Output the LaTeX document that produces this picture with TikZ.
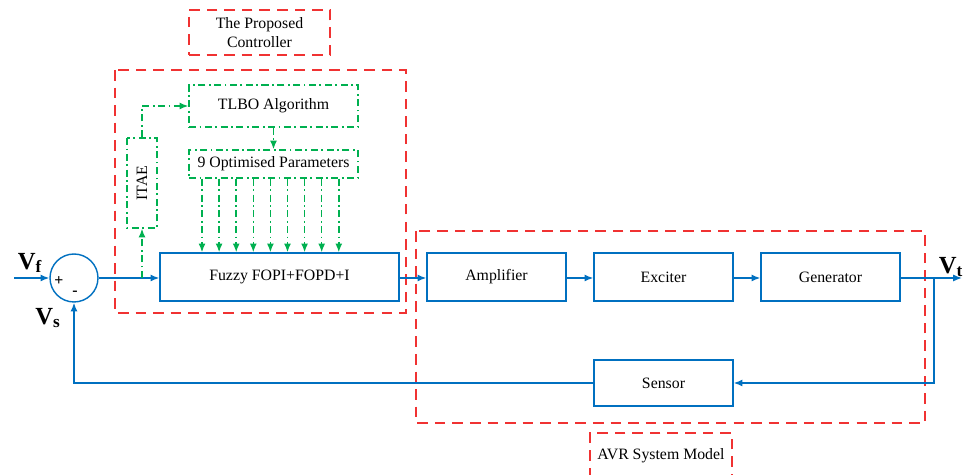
\documentclass[tikz,border=0pt]{standalone}
\usepackage{fontspec}
\setmainfont{Liberation Serif}
\usepackage{xcolor}
\usetikzlibrary{arrows.meta}

\definecolor{avrblue}{RGB}{0,112,192}
\definecolor{optgreen}{RGB}{0,176,80}
\definecolor{framered}{RGB}{240,50,50}

\tikzset{
  blockbox/.style={draw=avrblue, thick, minimum width=2.78cm, minimum height=0.96cm,
    font=\fontsize{9}{10.5}\selectfont},
  optbox/.style={draw=optgreen, thick, dash pattern=on 4pt off 2pt on 1pt off 2pt,
    font=\fontsize{9}{10.5}\selectfont},
  groupbox/.style={draw=framered, thick, dash pattern=on 6pt off 4pt},
  sigline/.style={draw=avrblue, thick, -{Latex[length=5pt,width=4pt]}},
  optline/.style={draw=optgreen, thick, dash pattern=on 4pt off 2pt on 1pt off 2pt,
    -{Latex[length=5pt,width=4pt]}},
  vlabel/.style={font=\fontsize{14}{16}\selectfont\bfseries},
}

\begin{document}
\begin{tikzpicture}[x=0.02cm, y=-0.02cm]
  \useasboundingbox (0,0) rectangle (965,475);
  \clip (0,0) rectangle (965,475);

  % group frames
  \draw[groupbox] (115,70) rectangle (406,313);
  \draw[groupbox] (416,231) rectangle (925,423);
  \node[groupbox, minimum width=2.82cm, minimum height=0.9cm, align=center,
    font=\fontsize{9}{11}\selectfont] (ctrllabel) at (259.5,32.5) {The Proposed\\Controller};
  \node[groupbox, minimum width=2.84cm, minimum height=1.0cm, text depth=0pt,
    font=\fontsize{9}{11}\selectfont] (avrlabel) at (661,458) {\raisebox{4pt}{AVR System Model}};

  % summing point
  \node[draw=avrblue, thick, circle, minimum size=0.96cm] (sum) at (74,278) {};
  \node[font=\fontsize{9}{10}\selectfont\bfseries] (plus) at (59,281) {+};
  \node[font=\fontsize{9}{10}\selectfont\bfseries] (minus) at (75,293) {-};
  \node[vlabel] (vf) at (30,263) {V\textsubscript{f}};
  \node[vlabel] (vs) at (48,318) {V\textsubscript{s}};
  \node[vlabel] (vt) at (951,267) {V\textsubscript{t}};

  % blocks
  \node[blockbox, minimum width=4.78cm] (fuzzy) at (279.5,277) {Fuzzy FOPI+FOPD+I};
  \node[blockbox] (amp) at (496.5,277) {Amplifier};
  \node[blockbox] (exc) at (663.5,277) {Exciter};
  \node[blockbox] (gen) at (830.5,277) {Generator};
  \node[blockbox, minimum height=0.92cm] (sensor) at (663.5,383) {Sensor};

  % optimisation part
  \node[optbox, minimum width=3.38cm, minimum height=0.84cm] (tlbo) at (273.5,106) {TLBO Algorithm};
  \node[optbox, minimum width=3.38cm, minimum height=0.56cm] (params) at (273.5,164) {9 Optimised Parameters};
  \node[optbox, rotate=90, minimum width=1.8cm, minimum height=0.6cm] (itae) at (142,183) {ITAE};

  % signal path
  \coordinate (in) at (14,278);
  \coordinate (out) at (962,278);
  \coordinate (tap) at (934,278);
  \coordinate (pick) at (142,278);
  \draw[sigline] (in) -- (sum);
  \draw[sigline] (sum) -- (sum -| fuzzy.west);
  \draw[sigline] (fuzzy.east |- sum) -- (amp.west |- sum);
  \draw[sigline] (amp.east |- sum) -- (exc.west |- sum);
  \draw[sigline] (exc.east |- sum) -- (gen.west |- sum);
  \draw[sigline] (gen.east |- sum) -- (out);
  \draw[sigline] (tap) |- (sensor);
  \draw[sigline] (sensor) -| (sum);

  % tuning loop
  \draw[optline] (pick) -- (itae.west);
  \draw[optline] (itae.east) |- (tlbo);
  \draw[optline] (tlbo) -- (params);
  \foreach \i in {0,...,8} {
    \coordinate (p\i) at ({202+17.1*\i},164);
    \draw[optline] (p\i |- params.south) -- (p\i |- fuzzy.north);
  }
\end{tikzpicture}
\end{document}
